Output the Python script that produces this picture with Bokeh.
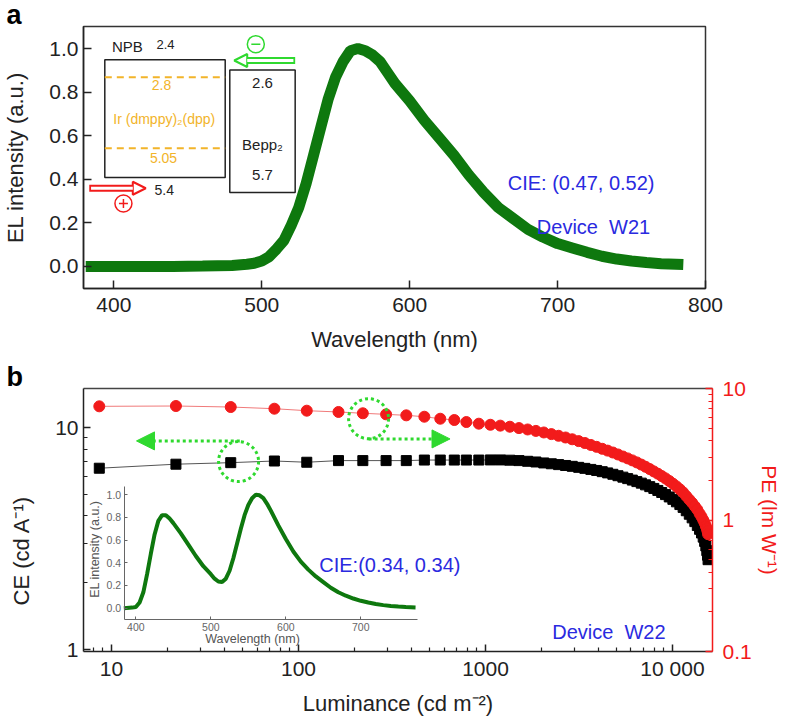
import math
from bokeh.plotting import figure
from bokeh.layouts import column
from bokeh.models import (Range1d, LinearAxis, LogAxis, LogScale, LinearScale,
                          FixedTicker, PrintfTickFormatter, Label, Arrow, NormalHead)
from bokeh.embed import file_html
from bokeh.resources import INLINE

FONT = "Liberation Sans"
GREEN_CURVE = "#0e780e"
RED = "#f21b1b"
GREEN = "#2fd92f"
BLUE = "#2a2ae0"
ORANGE = "#f2b42a"

# ---------------- panel a : EL spectrum (device W21) ----------------
wl_a = [381, 400, 420, 440, 460, 480, 490, 495, 500, 505, 510, 515, 520, 525, 530,
        535, 540, 545, 550, 555, 560, 565, 570, 575, 580, 585, 590, 595, 600, 610,
        620, 630, 640, 650, 660, 670, 680, 690, 700, 710, 720, 730, 740, 750, 760,
        770, 785]
el_a = [0.0, 0.0, 0.0, 0.0, 0.002, 0.005, 0.01, 0.015, 0.025, 0.045, 0.08, 0.12, 0.19, 0.27, 0.38,
        0.51, 0.64, 0.77, 0.87, 0.94, 0.99, 1.0, 0.99, 0.97, 0.94, 0.89, 0.84, 0.80, 0.76, 0.67,
        0.59, 0.51, 0.42, 0.34, 0.27, 0.22, 0.17, 0.135, 0.105, 0.085, 0.065, 0.047, 0.034, 0.025, 0.018,
        0.013, 0.009]
xticks_a = [400, 500, 600, 700, 800]
yticks_a = [0.0, 0.2, 0.4, 0.6, 0.8, 1.0]

# energy-level sketch (x in nm, y in a.u.): left, right, top, bottom
npb_box = [393.9, 475.3, 0.948, 0.408]
bepp_box = [478.4, 522.6, 0.902, 0.339]
dopant_levels = [0.868, 0.543]

# ---------------- panel b : CE / PE vs luminance (device W22) ----------------
lum = [8.6, 22.1, 43.4, 74.3, 110.7, 163.6, 220.8, 294, 377, 471, 573, 681, 790, 921, 1062,
       1200, 1350, 1510, 1680, 1860, 2050, 2250, 2460, 2680, 2910,
       3150, 3400, 3660, 3930, 4210, 4500, 4800, 5110, 5430, 5760,
       6100, 6450, 6810, 7180, 7560, 7950, 8350, 8760, 9180, 9610,
       10050, 10500, 10950, 11400, 11850, 12300, 12740, 13170, 13580, 13960,
       14300, 14600, 14860, 15080, 15260, 15400, 15500]
ce = [6.56, 6.84, 6.95, 7.07, 6.98, 7.10, 7.10, 7.10, 7.10, 7.14, 7.14, 7.14, 7.14, 7.14, 7.15,
      7.15, 7.13, 7.10, 7.05, 7.00, 6.93, 6.87, 6.81, 6.75, 6.69,
      6.62, 6.55, 6.48, 6.41, 6.33, 6.25, 6.16, 6.07, 5.98, 5.89,
      5.80, 5.71, 5.62, 5.52, 5.42, 5.32, 5.21, 5.10, 4.99, 4.87,
      4.75, 4.63, 4.50, 4.37, 4.22, 4.07, 3.92, 3.77, 3.62, 3.48,
      3.35, 3.21, 3.07, 2.93, 2.79, 2.66, 2.54]
pe = [7.32, 7.36, 7.23, 7.02, 6.78, 6.63, 6.48, 6.36, 6.25, 6.10, 5.89, 5.76, 5.56, 5.40, 5.30,
      5.22, 5.12, 5.00, 4.88, 4.76, 4.63, 4.50, 4.37, 4.24, 4.11,
      3.98, 3.85, 3.72, 3.60, 3.48, 3.37, 3.26, 3.15, 3.04, 2.94,
      2.84, 2.74, 2.64, 2.54, 2.44, 2.34, 2.25, 2.16, 2.07, 1.98,
      1.89, 1.80, 1.71, 1.62, 1.52, 1.43, 1.35, 1.27, 1.20, 1.12,
      1.06, 1.00, 0.95, 0.90, 0.86, 0.82, 0.78]
xticks_b = [10, 100, 1000, 10000]
xminor_b = [8, 9] + [k * 10 for k in range(2, 10)] + [k * 100 for k in range(2, 10)] + [k * 1000 for k in range(2, 10)]
yticks_ce = [1, 10]
yminor_ce = [2, 3, 4, 5, 6, 7, 8, 9]
yticks_pe = [0.1, 1, 10]
yminor_pe = [0.2, 0.3, 0.4, 0.5, 0.6, 0.7, 0.8, 0.9, 2, 3, 4, 5, 6, 7, 8, 9]

# inset spectrum (white device)
wl_in = [384, 395, 400, 405, 410, 415, 420, 425, 430, 435, 440, 445, 450, 460, 470, 480, 490, 500,
         505, 510, 515, 520, 525, 530, 535, 540, 545, 550, 555, 560, 565, 570, 575, 580, 590, 600,
         610, 620, 630, 640, 650, 660, 670, 680, 690, 700, 710, 720, 730, 740, 750, 760, 773]
el_in = [0.0, 0.005, 0.01, 0.05, 0.14, 0.30, 0.48, 0.65, 0.77, 0.82, 0.82, 0.79, 0.75, 0.66, 0.56, 0.46, 0.37, 0.30,
         0.26, 0.235, 0.23, 0.26, 0.33, 0.44, 0.57, 0.70, 0.82, 0.91, 0.97, 1.0, 0.995, 0.97, 0.92, 0.86, 0.73, 0.61,
         0.50, 0.41, 0.34, 0.28, 0.23, 0.18, 0.14, 0.11, 0.085, 0.065, 0.05, 0.037, 0.027, 0.02, 0.014, 0.01, 0.007]
xticks_in = [400, 500, 600, 700]
yticks_in = [0.0, 0.2, 0.4, 0.6, 0.8, 1.0]


def style_axis(ax, color="#222222", tick_size="21px", label_size="22px",
               major_in=8, minor_in=4, standoff=5, label_standoff=8):
    ax.axis_line_color = color
    ax.axis_line_width = 1.5
    ax.major_tick_line_color = color
    ax.major_tick_line_width = 1.5
    ax.major_tick_in = major_in
    ax.major_tick_out = 0
    ax.minor_tick_line_color = color
    ax.minor_tick_line_width = 1.2
    ax.minor_tick_in = minor_in
    ax.minor_tick_out = 0
    ax.major_label_text_font = FONT
    ax.major_label_text_font_size = tick_size
    ax.major_label_text_color = color
    ax.major_label_standoff = standoff
    ax.axis_label_text_font = FONT
    ax.axis_label_text_font_size = label_size
    ax.axis_label_text_font_style = "normal"
    ax.axis_label_text_color = color
    ax.axis_label_standoff = label_standoff


def add_text(p, x, y, text, size, color="#222222", align="center", **kw):
    p.add_layout(Label(x=x, y=y, text=text, text_font=FONT, text_font_size=size,
                       text_color=color, text_align=align, text_baseline="middle", **kw))


def panel_title(p, letter):
    p.title.text = letter
    p.title.text_font = FONT
    p.title.text_font_size = "27px"
    p.title.text_font_style = "bold"
    p.title.text_color = "black"
    p.title.align = "left"
    p.title.offset = -77
    p.title.standoff = -6


# ======================= panel a =======================
pa = figure(frame_width=622, frame_height=262, x_range=Range1d(379.5, 800), y_range=Range1d(-0.101, 1.101),
            output_backend="svg", toolbar_location=None,
            min_border_left=78, min_border_right=30, min_border_top=25, min_border_bottom=73)
pa.xgrid.visible = False
pa.ygrid.visible = False
pa.outline_line_color = "#333333"
pa.outline_line_width = 1.5
pa.background_fill_color = "white"
pa.border_fill_color = "white"
panel_title(pa, "a")

pa.xaxis.ticker = FixedTicker(ticks=xticks_a, minor_ticks=[])
pa.yaxis.ticker = FixedTicker(ticks=yticks_a, minor_ticks=[])
pa.yaxis.formatter = PrintfTickFormatter(format="%.1f")
pa.xaxis.axis_label = "Wavelength (nm)"
pa.yaxis.axis_label = "EL intensity (a.u.)"
style_axis(pa.xaxis[0], standoff=9, label_standoff=12)
style_axis(pa.yaxis[0], label_standoff=18)

pa.line(wl_a, el_a, line_color=GREEN_CURVE, line_width=11)

# energy level diagram
pa.quad(left=[npb_box[0], bepp_box[0]], right=[npb_box[1], bepp_box[1]],
        top=[npb_box[2], bepp_box[2]], bottom=[npb_box[3], bepp_box[3]],
        fill_color=None, line_color="#222222", line_width=1.5)
pa.segment(x0=[npb_box[0]] * 2, x1=[npb_box[1]] * 2, y0=dopant_levels, y1=dopant_levels,
           line_color=ORANGE, line_width=2, line_dash="7 5")
add_text(pa, 409.2, 1.009, "NPB", "15px")
add_text(pa, 434.9, 1.02, "2.4", "13px")
add_text(pa, 432.2, 0.833, "2.8", "14px", ORANGE)
add_text(pa, 434.1, 0.677, "Ir (dmppy)\u2082(dpp)", "14px", ORANGE)
add_text(pa, 433.6, 0.497, "5.05", "14px", ORANGE)
add_text(pa, 500.5, 0.841, "2.6", "15px")
add_text(pa, 500.5, 0.558, "Bepp\u2082", "15px")
add_text(pa, 500.5, 0.42, "5.7", "15px")
add_text(pa, 434.1, 0.349, "5.4", "14px")

# hollow arrows for hole (red) and electron (green) injection
for (xs, xe, yv, col) in [(383.4, 421.6, 0.359, RED), (522.6, 481.4, 0.945, GREEN)]:
    pa.add_layout(Arrow(x_start=xs, y_start=yv, x_end=xe, y_end=yv, line_color=col, line_width=7,
                        end=NormalHead(size=13, fill_color="white", line_color=col, line_width=2)))
    inner = 1.2 if xe > xs else -1.2
    pa.add_layout(Arrow(x_start=xs + inner, y_start=yv, x_end=xe, y_end=yv, line_color="white", line_width=3,
                        end=NormalHead(size=13, fill_alpha=0, line_alpha=0)))
pa.scatter([406.5], [0.289], marker="circle", size=17, fill_color=None, line_color=RED, line_width=1.5)
pa.scatter([406.5], [0.289], marker="cross", size=9, line_color=RED, line_width=1.5)
pa.scatter([496.0], [1.02], marker="circle", size=17, fill_color=None, line_color=GREEN, line_width=1.5)
pa.scatter([496.0], [1.02], marker="dash", size=9, line_color=GREEN, line_width=1.5)

add_text(pa, 715.9, 0.381, "CIE: (0.47, 0.52)", "20px", BLUE)
add_text(pa, 724.3, 0.183, "Device\u00a0\u00a0W21", "20px", BLUE)

# ======================= panel b =======================
pb = figure(frame_width=629, frame_height=263, x_axis_type="log", y_axis_type="log",
            x_range=Range1d(7.08, 16370), y_range=Range1d(0.98, 15.0),
            output_backend="svg", toolbar_location=None,
            min_border_left=78, min_border_right=76, min_border_top=27, min_border_bottom=70)
pb.xgrid.visible = False
pb.ygrid.visible = False
pb.outline_line_color = None
pb.background_fill_color = "white"
pb.border_fill_color = "white"
panel_title(pb, "b")
pb.extra_y_ranges = {"pe": Range1d(0.1, 10), "iy": Range1d(-0.382, 1.937)}
pb.extra_y_scales = {"pe": LogScale(), "iy": LinearScale()}
pb.extra_x_ranges = {"ix": Range1d(330.2, 1169.0)}
pb.extra_x_scales = {"ix": LinearScale()}

pb.xaxis.ticker = FixedTicker(ticks=xticks_b, minor_ticks=xminor_b)
pb.xaxis.major_label_overrides = {10: "10", 100: "100", 1000: "1000", 10000: "10\u00a0000"}
pb.yaxis.ticker = FixedTicker(ticks=yticks_ce, minor_ticks=yminor_ce)
pb.yaxis.major_label_overrides = {1: "1", 10: "10"}
pb.xaxis.axis_label = "Luminance (cd m\u207b\u00b2)"
pb.yaxis.axis_label = "CE (cd A\u207b\u00b9)" + "\u00a0" * 10
style_axis(pb.xaxis[0], major_in=7, label_standoff=8)
style_axis(pb.yaxis[0], major_in=7, label_standoff=18)

ax_r = LogAxis(y_range_name="pe", ticker=FixedTicker(ticks=yticks_pe, minor_ticks=yminor_pe),
               axis_label="PE (lm W\u207b\u00b9)")
ax_r.major_label_overrides = {0.1: "0.1", 1: "1", 10: "10"}
style_axis(ax_r, color=RED, major_in=7, standoff=10, label_size="21px", label_standoff=3)
pb.add_layout(ax_r, "right")

ax_top = LogAxis(ticker=FixedTicker(ticks=[], minor_ticks=[]))
style_axis(ax_top, color="#444444", standoff=0, label_standoff=0)
pb.add_layout(ax_top, "above")

# data
pb.line(lum, ce, line_color="#555555", line_width=1)
pb.scatter(lum, ce, marker="square", size=10, fill_color="black", line_color="black")
pb.line(lum, pe, line_color="#f07a7a", line_width=1, y_range_name="pe")
pb.scatter(lum, pe, marker="circle", size=11, fill_color=RED, line_color=RED, y_range_name="pe")

# green dotted markers/arrows
pb.scatter([47.8], [7.03], marker="circle", size=40, fill_color=None, line_color=GREEN,
           line_width=3, line_dash="3 3")
pb.scatter([237], [5.89], marker="circle", size=40, fill_color=None, line_color=GREEN,
           line_width=3, line_dash="3 3", y_range_name="pe")
pb.add_layout(Arrow(x_start=48.5, y_start=8.71, x_end=13.6, y_end=8.71, line_color=GREEN,
                    line_width=3, line_dash="3 3",
                    end=NormalHead(size=18, fill_color=GREEN, line_color=GREEN, line_width=1)))
pb.add_layout(Arrow(x_start=237, y_start=8.89, x_end=646, y_end=8.89, line_color=GREEN,
                    line_width=3, line_dash="3 3",
                    end=NormalHead(size=18, fill_color=GREEN, line_color=GREEN, line_width=1)))

# inset
pb.line(wl_in, el_in, line_color=GREEN_CURVE, line_width=4, x_range_name="ix", y_range_name="iy")
ax_in_x = LinearAxis(x_range_name="ix", y_range_name="iy", fixed_location=-0.102,
                     bounds=(384.5, 775.6), ticker=FixedTicker(ticks=xticks_in, minor_ticks=[]))
style_axis(ax_in_x, color="#666666", tick_size="10.5px", major_in=3, minor_in=0, standoff=3)
ax_in_x.axis_line_width = 1
ax_in_x.major_tick_line_width = 1
pb.add_layout(ax_in_x, "below")
ax_in_y = LinearAxis(x_range_name="ix", y_range_name="iy", fixed_location=384.5,
                     bounds=(-0.102, 1.07), ticker=FixedTicker(ticks=yticks_in, minor_ticks=[]),
                     formatter=PrintfTickFormatter(format="%.1f"))
style_axis(ax_in_y, color="#666666", tick_size="10.5px", major_in=3, minor_in=0, standoff=3)
ax_in_y.axis_line_width = 1
ax_in_y.major_tick_line_width = 1
pb.add_layout(ax_in_y, "left")
pb.add_layout(Label(x=555.6, y=-0.276, x_range_name="ix", y_range_name="iy", text="Wavelength (nm)",
                    text_font=FONT, text_font_size="12.5px", text_color="#555555",
                    text_align="center", text_baseline="middle"))
pb.add_layout(Label(x=344.9, y=0.52, x_range_name="ix", y_range_name="iy", text="EL intensity (a.u.)",
                    text_font=FONT, text_font_size="12.5px", text_color="#555555", angle=math.pi / 2,
                    text_align="center", text_baseline="middle"))

add_text(pb, 308, 2.41, "CIE:(0.34, 0.34)", "20px", BLUE)
add_text(pb, 4571, 1.205, "Device\u00a0\u00a0W22", "20px", BLUE)

layout = column(pa, pb, spacing=0)
open("out.html", "w").write(file_html(layout, INLINE))
